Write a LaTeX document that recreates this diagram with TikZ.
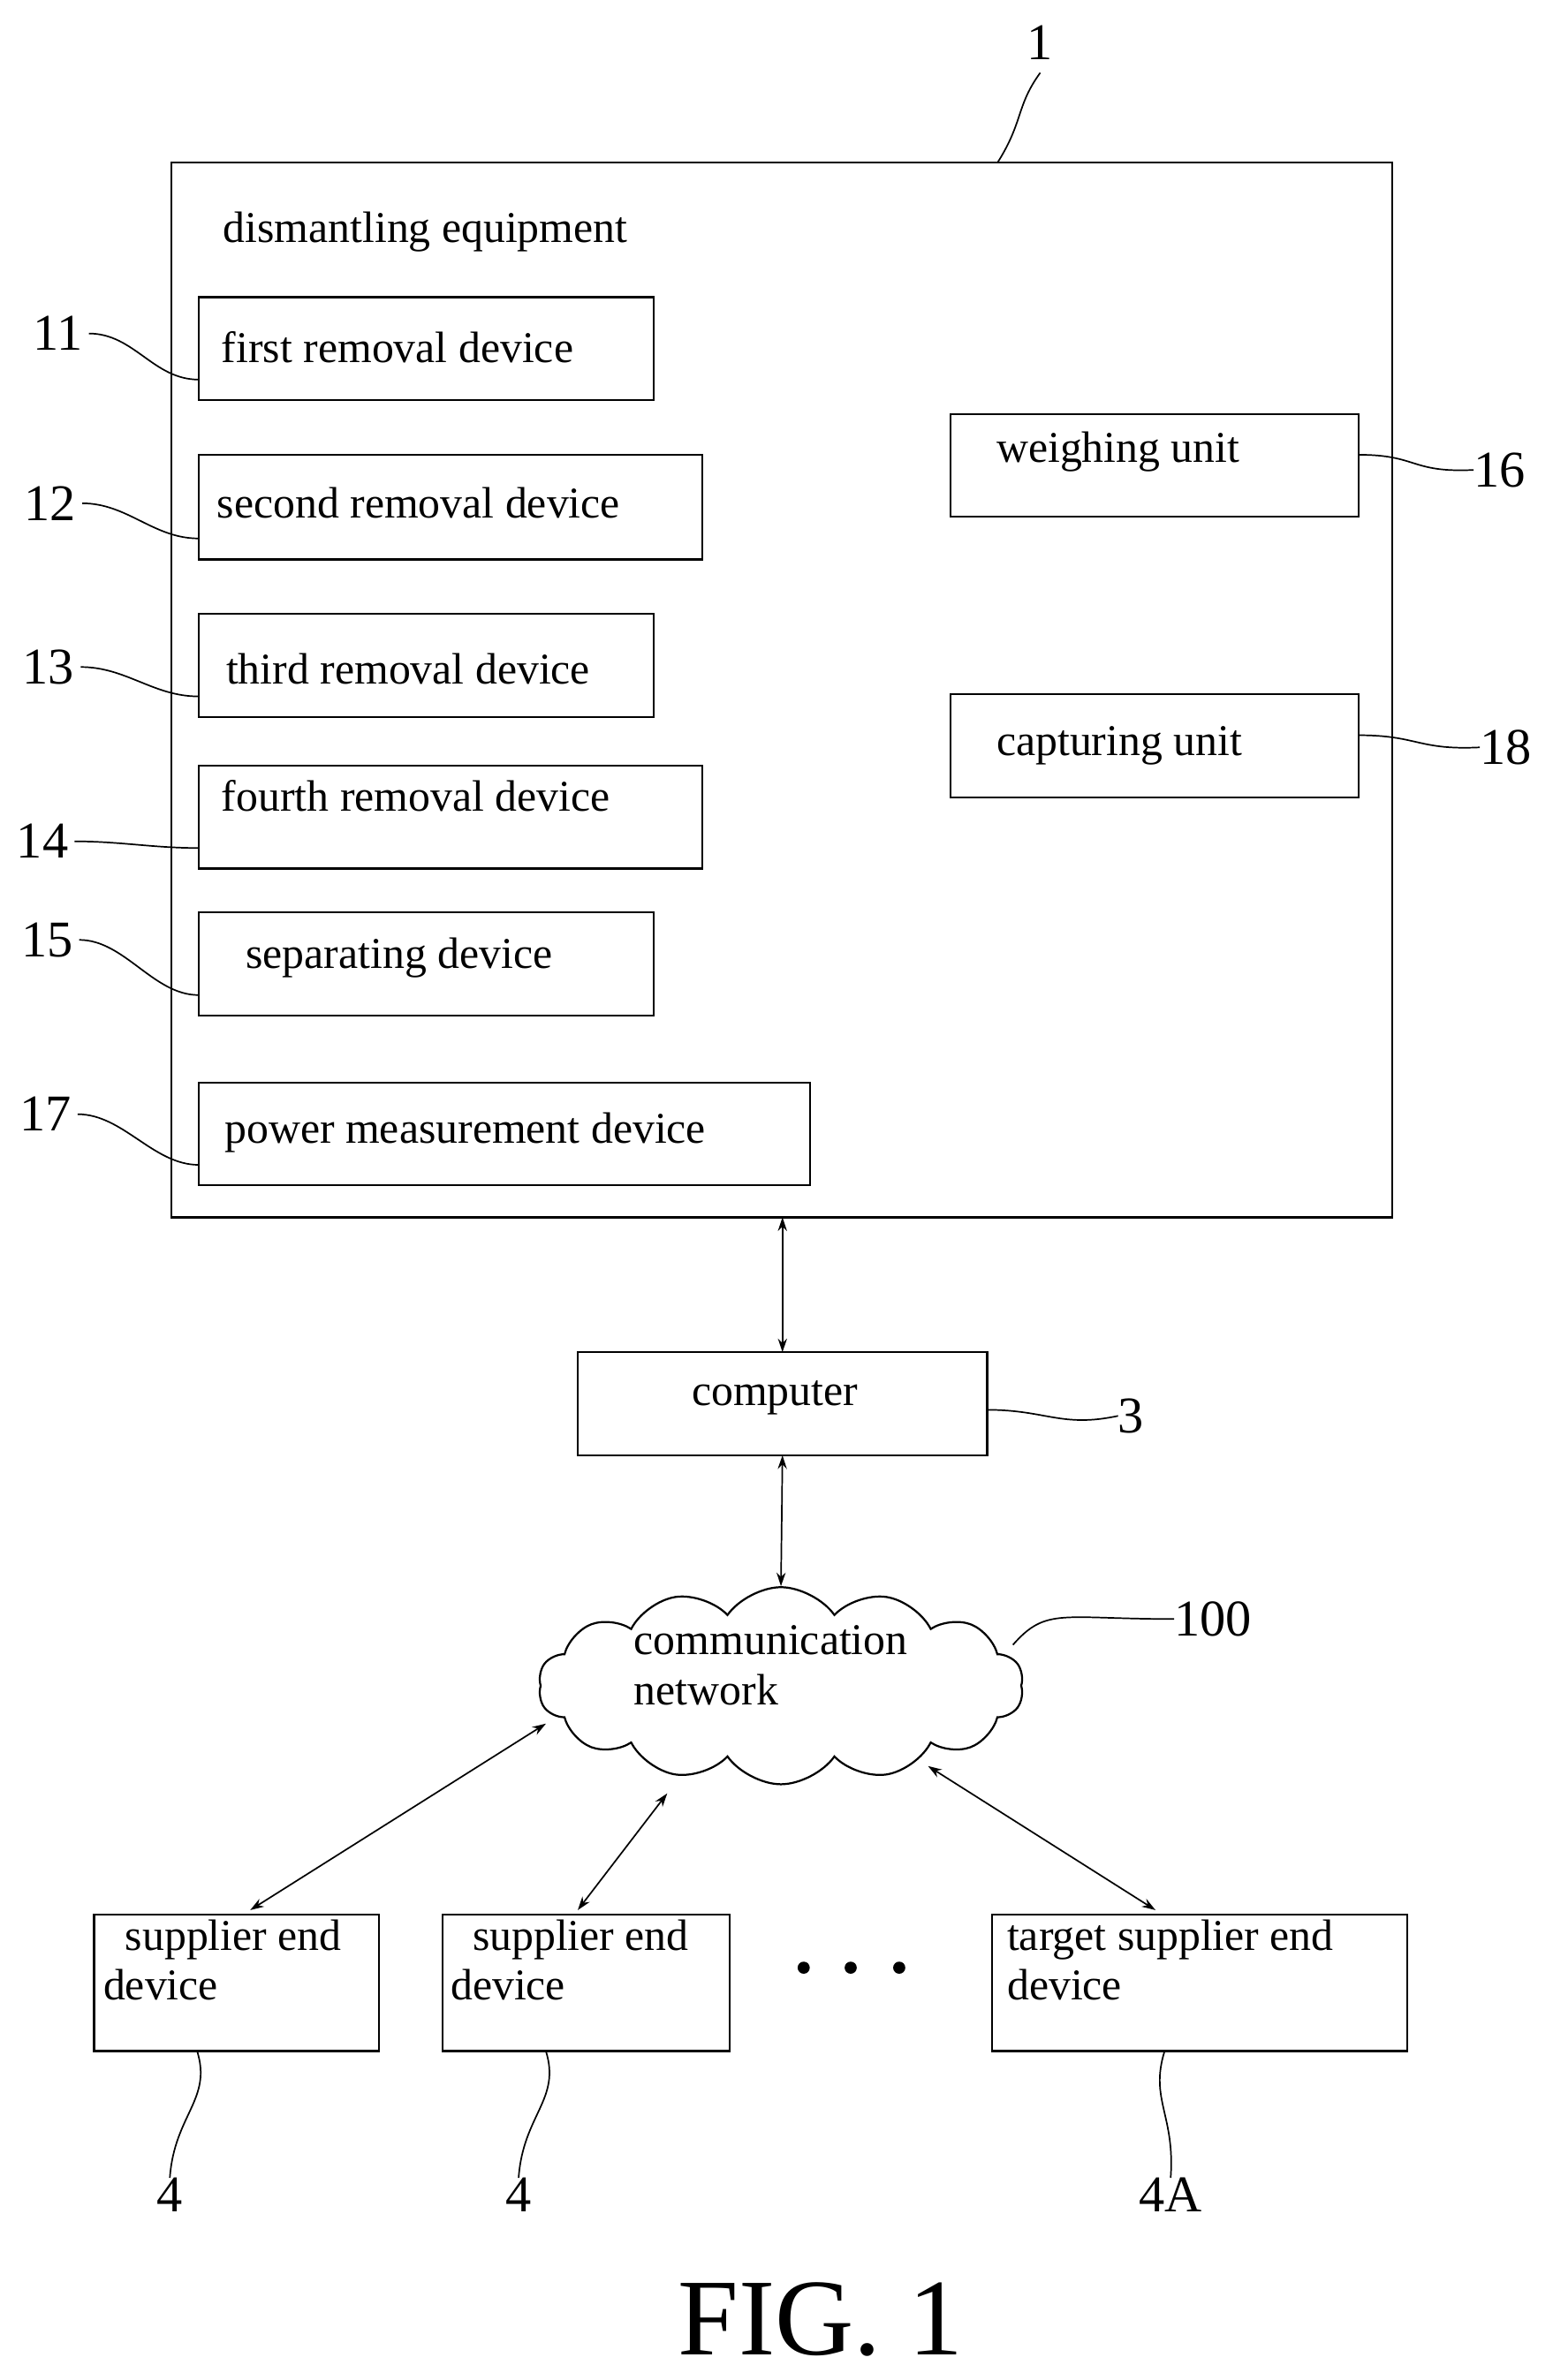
\documentclass[tikz,border=0pt]{standalone}
\usepackage{fontspec}
\setmainfont{Liberation Serif}
\usetikzlibrary{shapes.symbols,arrows.meta}
\begin{document}
\begin{tikzpicture}[x=1pt,y=-1pt,
  bx/.style={draw,line width=1.3pt},
  t/.style={font=\fontsize{29}{33}\selectfont,inner sep=0,anchor=west},
  num/.style={font=\fontsize{34}{36}\selectfont,inner sep=0},
  ld/.style={line width=1pt},
  ar/.style={line width=1pt,{Stealth[length=9pt,width=6pt]}-{Stealth[length=9pt,width=6pt]}}]
\useasboundingbox (0,0) rectangle (1024,1570);
\draw[bx] (113,107) rectangle (918,803);
\node[num] (n1) at (686,28) {1};
\coordinate (c1) at (658,107);
\draw[ld] (c1) .. controls (675,80) and (670,70) .. (686,48);
\node[t] (de) at (147,153) {dismantling equipment};
% left boxes
\foreach \n/\ya/\yb/\xb/\tx/\ty/\txt/\ly/\lx in {
 11/196/264/431/146/229/first removal device/220/38,
 12/300/369/463/143/332/second removal device/332/33,
 13/405/473/431/149/441/third removal device/440/32,
 14/505/573/463/146/525/fourth removal device/555/28,
 15/602/670/431/162/632/separating device/620/31,
 17/714/782/534/148/747/power measurement device/735/30}{
  \draw[bx] (131,\ya) rectangle (\xb,\yb) coordinate (b\n);
  \node[t] (t\n) at (\tx,\ty) {\txt};
  \node[num] (l\n) at (\lx,\ly) {\n};
  \draw[ld] (l\n.east) ++(4,0) .. controls +(30,0) and +(-30,0) .. (131,{\ly+(\ya+\yb)/2-\ly+0.6*(\yb-\ya)/2});
}
% right boxes
\draw[bx] (627,273) rectangle (896,341);
\node[t] (t16) at (657,298) {weighing unit};
\node[num] (l16) at (989,310) {16};
\draw[ld] (896,300) .. controls (935,300) and (930,312) .. (l16.west);
\draw[bx] (627,458) rectangle (896,526);
\node[t] (t18) at (657,492) {capturing unit};
\node[num] (l18) at (993,493) {18};
\draw[ld] (896,485) .. controls (935,485) and (935,495) .. (l18.west);
% computer
\draw[bx] (381,892) rectangle (651,960);
\node[t,anchor=center] (comp) at (511,922) {computer};
\node[num] (l3) at (746,934) {3};
\draw[ld] (651,930) .. controls (690,930) and (700,942) .. (l3.west);
\coordinate (eqb) at (516,803);
\coordinate (ct) at (516,892);
\coordinate (cb) at (516,960);
\draw[ar] (eqb) -- (ct);
% cloud
\node[cloud,draw,line width=1.3pt,cloud puffs=14,cloud puff arc=110,aspect=2.6,minimum width=320pt,minimum height=130pt] (cl) at (515,1112) {};
\node[t,align=left,anchor=north west] (clt) at (418,1072) {communication\\network};
\draw[ar] (cb) -- (cl.north);
\node[num] (l100) at (800,1068) {100};
\draw[ld] (668,1085) .. controls (690,1060) and (700,1068) .. (l100.west);
% suppliers
\draw[bx] (62,1263) rectangle (250,1353);
\node[t,align=left,anchor=north west] (s1) at (68,1266) {\ \ supplier end\\device};
\draw[bx] (292,1263) rectangle (481,1353);
\node[t,align=left,anchor=north west] (s2) at (297,1266) {\ \ supplier end\\device};
\draw[bx] (654,1263) rectangle (928,1353);
\node[t,align=left,anchor=north west] (s3) at (664,1266) {target supplier end\\device};
\foreach \x in {530,561,593} \fill (\x,1298) circle (4);
\coordinate (a1) at (360,1137); \coordinate (a2) at (440,1183); \coordinate (a3) at (612,1165);
\coordinate (s1t) at (165,1260); \coordinate (s2t) at (381,1260); \coordinate (s3t) at (762,1260);
\draw[ar] (a1) -- (s1t);
\draw[ar] (a2) -- (s2t);
\draw[ar] (a3) -- (s3t);
\node[num] (l4a) at (112,1448) {4};
\node[num] (l4b) at (342,1448) {4};
\node[num] (l4c) at (772,1448) {4A};
\draw[ld] (130,1353) .. controls (140,1385) and (115,1395) .. (l4a.north);
\draw[ld] (360,1353) .. controls (370,1385) and (345,1395) .. (l4b.north);
\draw[ld] (768,1353) .. controls (758,1385) and (775,1395) .. (l4c.north);
\node[font=\fontsize{72}{76}\selectfont,inner sep=0] (fig) at (541,1530) {FIG. 1};
\end{tikzpicture}
\end{document}
